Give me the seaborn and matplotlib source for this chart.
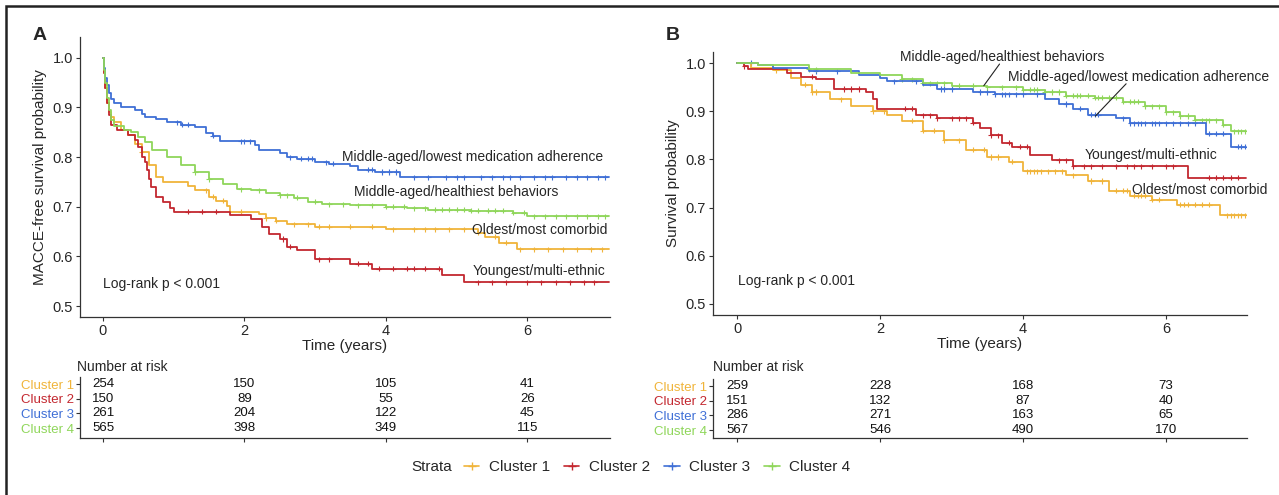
import numpy as np
import pandas as pd
import matplotlib
matplotlib.use("Agg")
import matplotlib.pyplot as plt
from matplotlib.lines import Line2D
from matplotlib.patches import Rectangle
import seaborn as sns

sns.set_theme(style="ticks")
plt.rcParams['font.family'] = ['Liberation Sans', 'DejaVu Sans']

clusters = ["Cluster 1", "Cluster 2", "Cluster 3", "Cluster 4"]
colors = {"Cluster 1": "#F0B43A", "Cluster 2": "#C3272F", "Cluster 3": "#3F6FD6", "Cluster 4": "#8FD65A"}

# ---------------- Panel A data (MACCE-free survival) ----------------
A_c1_t = [0, 0.01, 0.03, 0.06, 0.09, 0.12, 0.15, 0.25, 0.35, 0.45, 0.55, 0.65, 0.75, 0.85, 1.2, 1.3, 1.5, 1.6, 1.75, 1.8, 2.2, 2.3, 2.45, 2.6, 3.0, 4.0, 5.3, 5.4, 5.6, 5.85]
A_c1_s = [1.0, 0.97, 0.94, 0.91, 0.89, 0.88, 0.87, 0.855, 0.845, 0.826, 0.81, 0.785, 0.76, 0.75, 0.742, 0.733, 0.72, 0.712, 0.702, 0.69, 0.686, 0.677, 0.672, 0.665, 0.66, 0.655, 0.648, 0.64, 0.628, 0.614]
A_c2_t = [0, 0.01, 0.03, 0.06, 0.09, 0.12, 0.2, 0.35, 0.45, 0.5, 0.55, 0.6, 0.62, 0.65, 0.68, 0.75, 0.85, 0.95, 1.0, 1.8, 2.1, 2.25, 2.35, 2.5, 2.6, 2.75, 3.0, 3.5, 3.8, 4.8, 5.1]
A_c2_s = [1.0, 0.97, 0.94, 0.91, 0.885, 0.865, 0.855, 0.845, 0.835, 0.82, 0.80, 0.79, 0.775, 0.755, 0.74, 0.72, 0.71, 0.698, 0.69, 0.683, 0.675, 0.66, 0.645, 0.635, 0.62, 0.612, 0.594, 0.585, 0.575, 0.563, 0.548]
A_c3_t = [0, 0.01, 0.03, 0.06, 0.09, 0.12, 0.15, 0.25, 0.45, 0.55, 0.6, 0.75, 0.9, 1.1, 1.3, 1.45, 1.55, 1.65, 2.15, 2.2, 2.5, 2.6, 2.75, 3.0, 3.2, 3.5, 3.6, 3.85, 4.2]
A_c3_s = [1.0, 0.98, 0.96, 0.945, 0.93, 0.918, 0.91, 0.90, 0.895, 0.886, 0.88, 0.877, 0.87, 0.865, 0.86, 0.849, 0.843, 0.832, 0.824, 0.815, 0.808, 0.80, 0.797, 0.79, 0.787, 0.783, 0.775, 0.77, 0.759]
A_c4_t = [0, 0.01, 0.03, 0.06, 0.09, 0.12, 0.15, 0.3, 0.4, 0.5, 0.6, 0.7, 0.9, 1.1, 1.3, 1.5, 1.7, 1.9, 2.1, 2.3, 2.5, 2.7, 2.9, 3.1, 3.5, 4.0, 4.3, 4.6, 5.2, 5.8, 6.0]
A_c4_s = [1.0, 0.975, 0.95, 0.92, 0.895, 0.875, 0.862, 0.855, 0.85, 0.84, 0.83, 0.815, 0.80, 0.785, 0.77, 0.755, 0.745, 0.735, 0.733, 0.728, 0.723, 0.718, 0.71, 0.705, 0.703, 0.70, 0.697, 0.694, 0.692, 0.688, 0.681]
A_end = 7.15

A_c1_cens = [0.55, 1.45, 1.55, 1.7, 1.95, 2.3, 2.45, 2.7, 2.9, 3.05, 3.2, 3.5, 3.8, 4.1, 4.4, 4.55, 4.7, 4.9, 5.1, 5.3, 5.55, 5.7, 5.9, 6.1, 6.3, 6.5, 6.7, 6.9, 7.05]
A_c2_cens = [1.2, 1.4, 1.6, 2.55, 2.65, 3.05, 3.2, 3.6, 3.75, 3.9, 4.1, 4.3, 4.4, 4.55, 4.75, 5.3, 5.5, 5.7, 6.0, 6.2, 6.4, 6.6, 6.8, 6.95]
A_c3_cens = [1.05, 1.12, 1.2, 1.55, 1.95, 2.0, 2.08, 2.65, 2.8, 2.9, 2.95, 3.15, 3.25, 3.75, 3.8, 3.95, 4.05, 4.15, 4.4, 4.6, 4.85, 5.0, 5.1, 5.35, 5.5, 5.65, 5.75, 5.9, 6.1, 6.25, 6.35, 6.55, 6.7, 6.85, 7.0, 7.1]
A_c4_cens = [1.3, 1.5, 1.95, 2.2, 2.5, 2.6, 2.75, 3.0, 3.2, 3.4, 3.6, 3.8, 4.0, 4.1, 4.25, 4.4, 4.55, 4.7, 4.8, 4.9, 5.0, 5.1, 5.2, 5.3, 5.45, 5.55, 5.65, 5.8, 5.95, 6.1, 6.25, 6.4, 6.55, 6.7, 6.85, 7.0, 7.1]

A_risk_times = [0, 2, 4, 6]
A_risk_c1 = [254, 150, 105, 41]
A_risk_c2 = [150, 89, 55, 26]
A_risk_c3 = [261, 204, 122, 45]
A_risk_c4 = [565, 398, 349, 115]

# ---------------- Panel B data (survival) ----------------
B_c1_t = [0, 0.2, 0.5, 0.75, 0.9, 1.05, 1.3, 1.6, 1.9, 2.1, 2.3, 2.6, 2.9, 3.2, 3.5, 3.8, 4.0, 4.6, 4.9, 5.2, 5.5, 5.8, 6.15, 6.75]
B_c1_s = [1.0, 0.99, 0.985, 0.97, 0.955, 0.94, 0.925, 0.91, 0.90, 0.893, 0.88, 0.86, 0.84, 0.82, 0.805, 0.795, 0.775, 0.767, 0.755, 0.735, 0.725, 0.716, 0.706, 0.684]
B_c2_t = [0, 0.1, 0.15, 0.7, 0.9, 1.1, 1.35, 1.8, 1.9, 1.95, 2.5, 2.8, 3.3, 3.4, 3.55, 3.7, 3.85, 4.1, 4.4, 4.7, 6.3]
B_c2_s = [1.0, 0.993, 0.987, 0.98, 0.972, 0.966, 0.946, 0.94, 0.925, 0.905, 0.892, 0.885, 0.876, 0.865, 0.85, 0.835, 0.826, 0.81, 0.798, 0.786, 0.762]
B_c3_t = [0, 0.3, 0.5, 1.0, 1.7, 2.0, 2.1, 2.6, 2.8, 3.3, 3.6, 4.3, 4.5, 4.7, 4.9, 5.3, 5.5, 6.55, 6.9]
B_c3_s = [1.0, 0.997, 0.99, 0.983, 0.976, 0.97, 0.962, 0.955, 0.946, 0.94, 0.935, 0.925, 0.915, 0.905, 0.893, 0.885, 0.875, 0.853, 0.826]
B_c4_t = [0, 0.3, 1.0, 1.6, 2.0, 2.3, 2.6, 3.0, 3.5, 4.0, 4.3, 4.6, 5.0, 5.4, 5.7, 6.0, 6.2, 6.4, 6.8, 6.9]
B_c4_s = [1.0, 0.995, 0.987, 0.98, 0.975, 0.966, 0.958, 0.953, 0.95, 0.945, 0.94, 0.932, 0.928, 0.92, 0.91, 0.898, 0.89, 0.881, 0.872, 0.858]
B_end = 7.12

B_c1_cens = [0.55, 0.95, 1.05, 1.1, 1.45, 1.9, 2.05, 2.45, 2.6, 2.75, 2.9, 3.1, 3.3, 3.45, 3.55, 3.65, 3.85, 4.05, 4.1, 4.15, 4.2, 4.25, 4.35, 4.45, 4.55, 4.7, 4.95, 5.1, 5.3, 5.4, 5.45, 5.55, 5.6, 5.65, 5.7, 5.8, 5.9, 6.2, 6.25, 6.3, 6.4, 6.5, 6.6, 6.85, 6.9, 6.95, 7.0, 7.05, 7.1]
B_c2_cens = [0.1, 1.05, 1.5, 1.6, 1.7, 2.35, 2.45, 2.6, 2.7, 2.8, 3.0, 3.1, 3.2, 3.3, 3.55, 3.65, 3.8, 3.95, 4.05, 4.5, 4.6, 4.7, 4.85, 4.95, 5.1, 5.3, 5.45, 5.55, 5.65, 5.8, 6.0, 6.1, 6.6, 6.7, 6.8, 6.9, 7.0]
B_c3_cens = [0.2, 1.1, 1.4, 2.2, 2.5, 2.85, 2.9, 3.0, 3.4, 3.5, 3.6, 3.7, 3.75, 3.8, 3.9, 4.0, 4.2, 4.6, 4.8, 4.95, 5.0, 5.05, 5.4, 5.5, 5.55, 5.6, 5.65, 5.7, 5.8, 5.85, 5.9, 6.0, 6.1, 6.2, 6.3, 6.4, 6.6, 6.7, 6.8, 7.0, 7.05, 7.1]
B_c4_cens = [1.0, 1.1, 2.3, 2.45, 2.6, 2.7, 2.8, 2.9, 3.1, 3.3, 3.5, 3.7, 3.9, 4.0, 4.1, 4.15, 4.2, 4.3, 4.4, 4.5, 4.6, 4.7, 4.75, 4.8, 4.9, 5.0, 5.05, 5.1, 5.2, 5.3, 5.4, 5.5, 5.55, 5.6, 5.7, 5.8, 5.9, 6.0, 6.1, 6.2, 6.3, 6.4, 6.5, 6.55, 6.6, 6.7, 6.8, 6.95, 7.0, 7.05, 7.1]

B_risk_times = [0, 2, 4, 6]
B_risk_c1 = [259, 228, 168, 73]
B_risk_c2 = [151, 132, 87, 40]
B_risk_c3 = [286, 271, 163, 65]
B_risk_c4 = [567, 546, 490, 170]

# ---------------- Figure ----------------
W, H = 1279, 495
fig = plt.figure(figsize=(W / 100, H / 100), dpi=100)


def fax(l, t, r, b):
    return fig.add_axes([l / W, 1 - b / H, (r - l) / W, (b - t) / H])


def km_frame(steps, end):
    rows = []
    for name, (t, s) in zip(clusters, steps):
        tt = list(t) + [end]
        ss = list(s) + [s[-1]]
        rows.append(pd.DataFrame({"time": tt, "surv": ss, "Strata": name}))
    return pd.concat(rows, ignore_index=True)


def cens_frame(steps, cens):
    rows = []
    for name, (t, s), c in zip(clusters, steps, cens):
        t = np.asarray(t); s = np.asarray(s); c = np.asarray(c)
        idx = np.searchsorted(t, c, side="right") - 1
        rows.append(pd.DataFrame({"time": c, "surv": s[idx], "Strata": name}))
    return pd.concat(rows, ignore_index=True)


def draw_panel(ax, steps, cens, end, xlim, ylim, ylabel):
    df = km_frame(steps, end)
    sns.lineplot(data=df, x="time", y="surv", hue="Strata", palette=colors,
                 drawstyle="steps-post", estimator=None, sort=False,
                 linewidth=1.3, legend=False, ax=ax)
    cdf = cens_frame(steps, cens)
    sns.scatterplot(data=cdf, x="time", y="surv", hue="Strata", palette=colors,
                    marker="+", s=14, linewidth=0.8, legend=False, ax=ax)
    ax.set_xlim(*xlim)
    ax.set_ylim(*ylim)
    ax.set_xticks([0, 2, 4, 6])
    ax.set_yticks([0.5, 0.6, 0.7, 0.8, 0.9, 1.0])
    ax.set_yticklabels(["0.5", "0.6", "0.7", "0.8", "0.9", "1.0"])
    ax.set_xlabel("Time (years)", fontsize=11, labelpad=1)
    ax.set_ylabel(ylabel, fontsize=11, labelpad=4)
    ax.tick_params(labelsize=10.5, length=3, width=0.8, color="#333333", pad=2)
    for sp in ["top", "right"]:
        ax.spines[sp].set_visible(False)
    for sp in ["left", "bottom"]:
        ax.spines[sp].set_linewidth(0.9)
        ax.spines[sp].set_color("#333333")


def draw_table(ax, risks, times, xlim, ylim):
    ypos = [3, 2, 1, 0]
    for name, vals, y in zip(clusters, risks, ypos):
        for t, v in zip(times, vals):
            ax.text(t, y, str(v), ha="center", va="center", fontsize=9.5, color="#111111")
    ax.set_xlim(*xlim)
    ax.set_ylim(*ylim)
    ax.set_xticks(times)
    ax.set_xticklabels([])
    ax.set_yticks(ypos)
    ax.set_yticklabels(clusters, fontsize=9.5)
    for lab, name in zip(ax.get_yticklabels(), clusters):
        lab.set_color(colors[name])
    ax.tick_params(length=3, width=0.8, color="#333333", pad=1)
    for sp in ["top", "right"]:
        ax.spines[sp].set_visible(False)
    for sp in ["left", "bottom"]:
        ax.spines[sp].set_linewidth(0.9)
        ax.spines[sp].set_color("#333333")
    ax.set_xlabel("")
    ax.set_ylabel("")
    ax.patch.set_alpha(0)


# Panel A
axA = fax(80, 37, 610, 317)
A_steps = [(A_c1_t, A_c1_s), (A_c2_t, A_c2_s), (A_c3_t, A_c3_s), (A_c4_t, A_c4_s)]
draw_panel(axA, A_steps, [A_c1_cens, A_c2_cens, A_c3_cens, A_c4_cens], A_end,
           (-0.325, 7.17), (0.478, 1.042), "MACCE-free survival probability")
fsA = 10
axA.text(5.23, 0.800, "Middle-aged/lowest medication adherence", ha="center", va="center", fontsize=fsA)
axA.text(5.00, 0.729, "Middle-aged/healthiest behaviors", ha="center", va="center", fontsize=fsA)
axA.text(6.18, 0.654, "Oldest/most comorbid", ha="center", va="center", fontsize=fsA)
axA.text(6.16, 0.571, "Youngest/multi-ethnic", ha="center", va="center", fontsize=fsA)
axA.text(0.0, 0.545, "Log-rank p < 0.001", ha="left", va="center", fontsize=fsA)

tA = fax(80, 377, 610, 438)
draw_table(tA, [A_risk_c1, A_risk_c2, A_risk_c3, A_risk_c4], A_risk_times,
           (-0.325, 7.17), (-0.68, 3.48))
fig.text(77 / W, 1 - 367 / H, "Number at risk", ha="left", va="center", fontsize=10)

# Panel B
axB = fax(713, 52, 1247, 315)
B_steps = [(B_c1_t, B_c1_s), (B_c2_t, B_c2_s), (B_c3_t, B_c3_s), (B_c4_t, B_c4_s)]
draw_panel(axB, B_steps, [B_c1_cens, B_c2_cens, B_c3_cens, B_c4_cens], B_end,
           (-0.336, 7.13), (0.477, 1.023), "Survival probability")
axB.text(3.71, 1.012, "Middle-aged/healthiest behaviors", ha="center", va="center", fontsize=fsA)
axB.plot([3.67, 3.45], [0.998, 0.953], color="#222222", lw=0.8)
axB.text(5.61, 0.971, "Middle-aged/lowest medication adherence", ha="center", va="center", fontsize=fsA)
axB.plot([5.44, 5.01], [0.957, 0.890], color="#222222", lw=0.8)
axB.text(5.79, 0.810, "Youngest/multi-ethnic", ha="center", va="center", fontsize=fsA)
axB.text(6.47, 0.736, "Oldest/most comorbid", ha="center", va="center", fontsize=fsA)
axB.text(0.01, 0.547, "Log-rank p < 0.001", ha="left", va="center", fontsize=fsA)

tB = fax(713, 379, 1247, 438)
draw_table(tB, [B_risk_c1, B_risk_c2, B_risk_c3, B_risk_c4], B_risk_times,
           (-0.336, 7.13), (-0.54, 3.48))
fig.text(713 / W, 1 - 367 / H, "Number at risk", ha="left", va="center", fontsize=10)

# Panel letters
fig.text(33 / W, 1 - 36 / H, "A", fontsize=14, fontweight="bold", ha="left", va="center")
fig.text(666 / W, 1 - 36 / H, "B", fontsize=14, fontweight="bold", ha="left", va="center")

# Legend
handles = [Line2D([], [], color=colors[c], marker="+", markersize=6, lw=1.2) for c in clusters]
fig.text(411 / W, 1 - 467 / H, "Strata", fontsize=11, ha="left", va="center")
fig.legend(handles, clusters, loc="center", bbox_to_anchor=(657 / W, 1 - 467 / H), ncol=4,
           frameon=False, fontsize=11, handlelength=1.0, handletextpad=0.6, columnspacing=0.95)

# Outer frame
fig.patches.append(Rectangle((6 / W, -0.05), 1.2, 1 - 6 / H + 0.05, transform=fig.transFigure,
                             fill=False, edgecolor="#222222", linewidth=1.8))

fig.savefig("out.png", dpi=100)
